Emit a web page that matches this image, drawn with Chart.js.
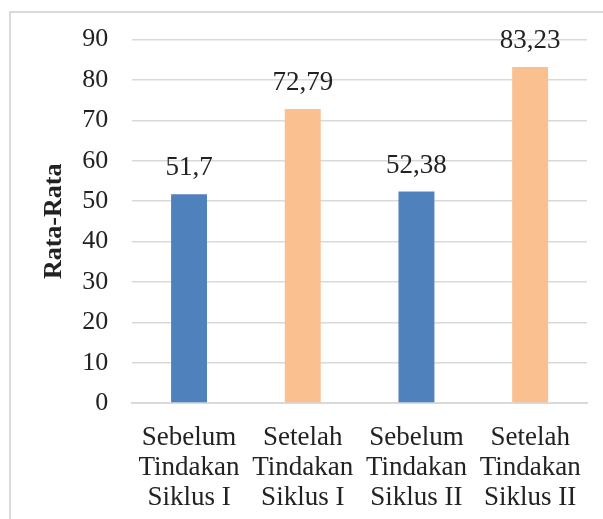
<!DOCTYPE html>
<html>
<head>
<meta charset="utf-8">
<script src="https://cdn.jsdelivr.net/npm/chart.js@4"></script>
<style>
  html, body { margin: 0; padding: 0; background: #fff; overflow: hidden; }
  #wrap { position: relative; width: 603px; height: 519px; }
  #frame { position: absolute; left: 9px; top: 11px; width: 700px; height: 600px; border: 2px solid #d9d9d9; box-sizing: border-box; }
  canvas { position: absolute; left: 0; top: 0; }
</style>
</head>
<body>
<div id="wrap">
  <div id="frame"></div>
  <canvas id="myChart" width="603" height="519"></canvas>
</div>
<script>
const categories = [
  ['Sebelum', 'Tindakan', 'Siklus I'],
  ['Setelah', 'Tindakan', 'Siklus I'],
  ['Sebelum', 'Tindakan', 'Siklus II'],
  ['Setelah', 'Tindakan', 'Siklus II']
];
const values = [51.7, 72.79, 52.38, 83.23];
const valueLabels = ['51,7', '72,79', '52,38', '83,23'];
const barColors = ['#4f81bd', '#fac08f', '#4f81bd', '#fac08f'];
const axisTitle = 'Rata-Rata';

const serif = "'Liberation Serif', 'Times New Roman', serif";

// draw the value above each bar
const valueLabelPlugin = {
  id: 'valueLabels',
  afterDatasetsDraw(chart) {
    const ctx = chart.ctx;
    const meta = chart.getDatasetMeta(0);
    ctx.save();
    ctx.font = '27px ' + serif;
    ctx.fillStyle = '#222';
    ctx.textAlign = 'center';
    ctx.textBaseline = 'alphabetic';
    meta.data.forEach((bar, i) => {
      ctx.fillText(valueLabels[i], bar.x, bar.y - 19);
    });
    ctx.restore();
  }
};

const config = {
  type: 'bar',
  data: {
    labels: categories,
    datasets: [{
      data: values,
      backgroundColor: barColors,
      borderWidth: 0,
      categoryPercentage: 1,
      barPercentage: 0.316
    }]
  },
  options: {
    responsive: false,
    animation: false,
    layout: { padding: { left: 29, right: 16, top: 33, bottom: -6 } },
    plugins: { legend: { display: false }, tooltip: { enabled: false } },
    scales: {
      x: {
        grid: { display: false },
        border: { color: '#d9d9d9', width: 2 },
        ticks: {
          color: '#222',
          font: { family: serif, size: 27, lineHeight: 1.11 },
          padding: 12,
          maxRotation: 0
        }
      },
      y: {
        min: 0,
        max: 90,
        grid: { color: '#d9d9d9', lineWidth: 1.5, drawTicks: false },
        border: { display: false },
        ticks: {
          stepSize: 10,
          color: '#222',
          font: { family: serif, size: 26 },
          padding: 24
        },
        title: {
          display: true,
          text: axisTitle,
          color: '#222',
          font: { family: serif, size: 26, weight: 'bold' },
          padding: { top: 10, bottom: -12 }
        }
      }
    }
  },
  plugins: [valueLabelPlugin]
};

new Chart(document.getElementById('myChart'), config);
</script>
</body>
</html>
